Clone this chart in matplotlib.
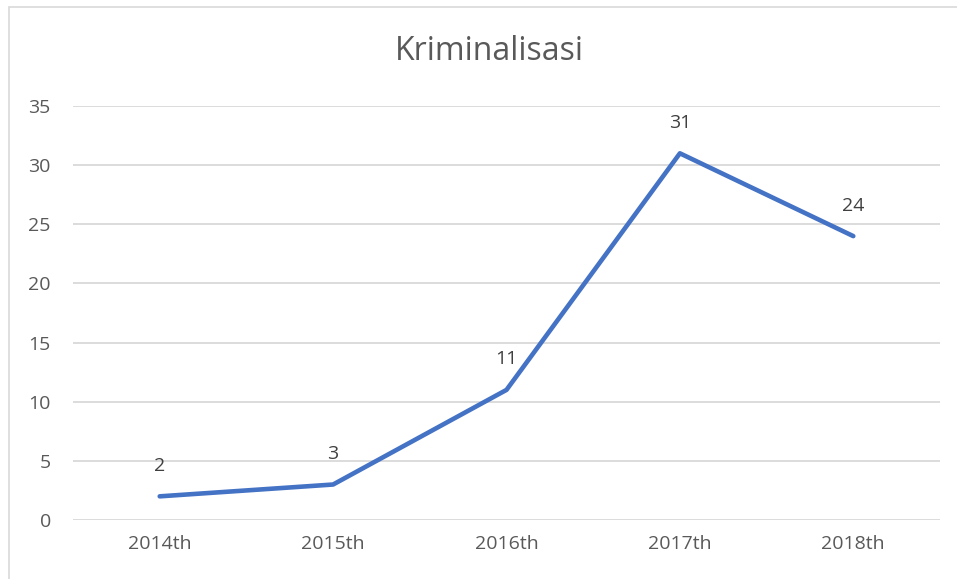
import matplotlib.pyplot as plt
from matplotlib.patches import Rectangle

years = ['2014th', '2015th', '2016th', '2017th', '2018th']
cases = [2, 3, 11, 31, 24]
yticks = [0, 5, 10, 15, 20, 25, 30, 35]

plt.rcParams['font.family'] = ['Open Sans', 'DejaVu Sans']

fig = plt.figure(figsize=(9.57, 5.79), dpi=100)
ax = fig.add_axes([73/957, 1 - 520/579, 867/957, 414/579])

x = list(range(len(years)))
ax.plot(x, cases, color='#4472C4', lw=3.3, solid_capstyle='round', zorder=3)
for xi, v in zip(x, cases):
    ax.annotate(str(v), (xi, v), xytext=(0, 22), textcoords='offset points',
                ha='center', va='center', fontsize=14, color='#404040')

ax.set_xlim(-0.5, len(years) - 0.5)
ax.set_ylim(0, 35)
ax.set_yticks(yticks)
ax.set_xticks(x)
ax.set_xticklabels(years)
ax.tick_params(length=0, labelsize=14, labelcolor='#595959')
ax.tick_params(axis='y', pad=16)
ax.tick_params(axis='x', pad=11)
ax.grid(axis='y', color='#D9D9D9', lw=1.3)
ax.set_axisbelow(True)
for s in ax.spines.values():
    s.set_visible(False)

fig.text(489/957, 1 - 52/579, 'Kriminalisasi', ha='center', va='center',
         fontsize=23, color='#595959')

# chart border
fig.patches.append(Rectangle((9/957, -0.1), 1.2, 1 - 7/579 + 0.1,
                             transform=fig.transFigure, fill=False,
                             edgecolor='#D9D9D9', lw=1.2))

plt.savefig('out.png', dpi=100)
plt.close()
